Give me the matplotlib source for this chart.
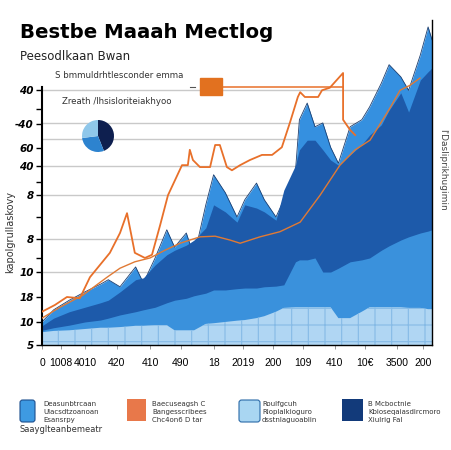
import matplotlib
matplotlib.use("Agg")
import matplotlib.pyplot as plt
from matplotlib.patches import Rectangle, FancyBboxPatch

plt.rcParams['font.family'] = ['DejaVu Sans']
plt.rcParams['hatch.linewidth'] = 0.8

# x positions (0-100 along the axis)
x = [0, 3, 7, 11, 15, 17, 20, 24, 26, 29, 32, 34, 37, 39, 42, 44, 47, 50, 52, 55,
     57, 60, 62, 65, 66, 68, 70, 72, 74, 76, 79, 82, 84, 87, 89, 92, 94, 97, 99, 100]

# layer tops
peaks = [3.6, 5.5, 7.0, 8.3, 9.5, 10.2, 9.1, 12.2, 9.7, 13.6, 18.0, 15.3, 17.5, 13.8, 21.9, 26.6,
         23.8, 20.0, 22.7, 25.3, 22.7, 20.0, 22.7, 27.3, 35.2, 37.8, 34.1, 34.7, 30.9, 28.4,
         34.1, 35.2, 37.2, 40.9, 43.8, 41.9, 39.8, 45.3, 49.7, 47.7]
deep = [3.0, 4.2, 5.2, 5.9, 6.6, 7.0, 8.3, 10.2, 10.5, 12.5, 14.1, 14.8, 15.6, 16.4, 18.3, 21.9,
        20.8, 19.2, 21.9, 21.4, 20.8, 19.5, 24.2, 28.1, 30.5, 32.0, 32.0, 30.5, 28.9, 28.1,
        29.7, 31.3, 32.8, 34.4, 36.7, 39.4, 36.4, 41.4, 42.7, 43.3]
middle = [2.3, 2.7, 3.1, 3.6, 3.9, 4.2, 4.7, 5.2, 5.5, 5.9, 6.6, 7.0, 7.3, 7.7, 8.1, 8.6,
          8.6, 8.8, 8.9, 8.9, 9.1, 9.2, 9.4, 13.0, 13.3, 13.3, 13.6, 11.4, 11.4, 12.0,
          13.0, 13.3, 13.6, 14.8, 15.5, 16.4, 16.9, 17.5, 17.8, 18.0]
base = [2.0, 2.2, 2.3, 2.5, 2.7, 2.7, 2.8, 3.0, 3.0, 3.1, 3.1, 2.3, 2.3, 2.3, 3.3, 3.4,
        3.6, 3.8, 3.9, 4.2, 4.5, 5.2, 5.8, 5.9, 5.9, 5.9, 5.9, 5.9, 5.9, 4.2,
        4.2, 5.2, 5.9, 5.9, 5.9, 5.9, 5.8, 5.8, 5.6, 5.6]

# jagged orange series
jag_x = [0, 3.3, 6.4, 9.7, 12.3, 17.4, 20.0, 21.8, 23.8, 26.4, 28.2, 30.3, 32.3, 35.9, 37.4,
         37.9, 38.7, 40.5, 43.1, 44.4, 45.6, 47.4, 48.7, 50.8, 53.3, 56.4, 59.0, 61.5, 63.6,
         65.6, 66.2, 67.4, 70.8, 71.8, 73.8, 77.2, 77.2, 79.0, 80.3]
jag_y = [5.2, 6.25, 7.5, 7.3, 10.6, 14.4, 17.5, 20.6, 14.4, 13.6, 14.1, 18.75, 23.4, 28.1, 28.1,
         30.5, 28.9, 27.8, 27.8, 31.25, 31.25, 27.8, 27.3, 28.1, 28.9, 29.7, 29.7, 30.9, 34.8,
         38.75, 39.5, 38.75, 38.75, 39.8, 40.2, 42.5, 35.2, 33.6, 32.8]

# smooth orange series
trend_x = [0, 4.6, 10.5, 16.7, 20.0, 23.8, 27.7, 31.5, 35.4, 40.5, 44.4, 48.2, 50.8, 55.9,
           61.0, 66.2, 71.3, 76.4, 80.3, 84.1, 89.2, 91.8, 94.4, 96.9]
trend_y = [4.2, 5.9, 7.8, 10.6, 12.0, 13.0, 13.6, 14.8, 15.9, 16.9, 17.0, 16.4, 15.9, 16.9,
           17.7, 19.2, 23.4, 28.1, 30.5, 32.0, 37.0, 39.8, 40.6, 41.7]

pie_vals = [44, 29, 27]

xtick_pos = [0, 4.8, 11, 19.2, 27.7, 35.6, 44.1, 51.5, 59.2, 66.9, 75.1, 82.8, 91.0, 97.7]
xtick_lab = ['0', '1008', '4010', '420', '410', '490', '18', '2019', '200', '109', '410',
             '10€', '3500', '200']
ytick_pos = [0, 3.6, 7.5, 11.4, 16.6, 23.4, 28.0, 30.8, 34.5, 39.8]
ytick_lab = ['5', '10', '18', '10', '8', '8', '40', '60', '-40', '40']
grid_y = [39.8, 34.7, 32.2, 28.0, 23.4, 16.6, 11.4]

W, H = 452, 450
fig = plt.figure(figsize=(W / 100, H / 100), dpi=100)
ax = fig.add_axes([42 / W, 105 / H, 390 / W, 325 / H])
ax.set_xlim(0, 100)
ax.set_ylim(0, 325 / 6.4)

ax.hlines(grid_y, 0, 100, color='#c9c9c9', lw=1, zorder=0)

ax.fill_between(x, 0, peaks, color='#3590e0', lw=0, zorder=2)
ax.plot(x, peaks, color='#1b3e70', lw=0.6, zorder=2)
ax.fill_between(x, 0, deep, color='#1d5aaa', lw=0, zorder=2)
ax.fill_between(x, 0, middle, color='#3a91dc', lw=0, zorder=2)
ax.fill_between(x, 0, base, facecolor='#b0d6f3', edgecolor='#86bbe6', hatch='+', lw=0, zorder=2)

ax.plot(jag_x, jag_y, color='#e8702a', lw=1.3, zorder=3)
ax.plot(trend_x, trend_y, color='#e07a35', lw=1.0, zorder=3)

# orange key box with leader line
ax.add_patch(Rectangle((0.406, 0.77), 0.056, 0.05, transform=ax.transAxes,
                       color='#e2711f', zorder=4))
ax.plot([0.462, 0.772], [0.795, 0.795], transform=ax.transAxes, color='#e8702a', lw=1.1)
ax.plot([0.38, 0.392], [0.795, 0.795], transform=ax.transAxes, color='#555', lw=0.8)

ax.set_xticks(xtick_pos)
ax.set_xticklabels(xtick_lab, fontsize=7.5, fontfamily='Liberation Sans')
ax.set_yticks(ytick_pos)
ax.set_yticklabels(ytick_lab, fontsize=7.5, fontweight='bold', fontstyle='italic')
ax.set_yticks([13.6, 20.0, 25.5, 36.9], minor=True)
ax.tick_params(axis='y', which='both', length=4, width=1, direction='out', pad=2)
ax.tick_params(axis='x', length=3, width=0.6, color='#888', pad=6)

ax.spines['top'].set_visible(False)
ax.spines['left'].set_bounds(0, 40.3)
ax.spines['left'].set_linewidth(1.5)
ax.spines['bottom'].set_linewidth(1.0)
ax.spines['right'].set_linewidth(1.0)


def ftext(px, py, s, **kw):
    fig.text(px / W, 1 - py / H, s, **kw)


ftext(20, 33, 'Bestbe Maaah Mectlog', fontsize=14.2, fontweight='bold', va='center')
ftext(20, 56, 'Peesodlkaan Bwan', fontsize=8.5, va='center', color='#222')
ftext(55, 75, 'S bmmuldrhtlesconder emma', fontsize=6.2, va='center', color='#333')
ftext(62, 101, 'Zreath /lhsisloriteiakhyoo', fontsize=6.2, va='center', color='#333')
ftext(10, 232, 'kapolgrullaskovy', fontsize=7, rotation=90, ha='center', va='center', color='#333')
ftext(443, 170, "l'Dasliprikhugimin", fontsize=6.5, rotation=270, ha='center', va='center', color='#444')

pax = fig.add_axes([78 / W, 1 - 156 / H, 40 / W, 40 / H])
pax.pie(pie_vals, colors=['#0e1f4f', '#2d83cf', '#8fc7ea'], startangle=90, counterclock=False)
pax.set_aspect('equal')

# bottom key
keys = [
    (20, 35, '#3e9ae2', '#1c4f8f', True, 43, ['Deasunbtrcaan', 'Ulacsdtzoanoan', 'Esansrpy']),
    (127, 146, '#e8784a', '#e8784a', False, 152, ['Baecuseagsh C', 'Bangesscribees', 'Chc4on6 D tar']),
    (239, 260, '#a9d6f2', '#2a6aa8', True, 262, ['Roulfgcuh', 'Rloplalkioguro', 'dsstnlaguoablin']),
    (342, 363, '#123a7a', '#123a7a', False, 368, ['B Mcboctnie', 'Kbioseqaiasdircmoro', 'Xiulrig Fal']),
]
for x0, x1, fc, ec, rounded, tx, lines in keys:
    if rounded:
        p = FancyBboxPatch((x0 / W, 1 - 422 / H), (x1 - x0) / W, 22 / H,
                           boxstyle='round,pad=0,rounding_size=0.006',
                           transform=fig.transFigure, facecolor=fc, edgecolor=ec, lw=0.8)
    else:
        p = Rectangle((x0 / W, 1 - 421 / H), (x1 - x0) / W, 22 / H,
                      transform=fig.transFigure, facecolor=fc, edgecolor=ec, lw=0)
    fig.add_artist(p)
    for i, line in enumerate(lines):
        ftext(tx, 404 + 8 * i, line, fontsize=5, va='center', color='#333')
ftext(20, 430, 'Saayglteanbemeatr', fontsize=6, va='center', color='#333')

fig.savefig('out.png', dpi=100)
